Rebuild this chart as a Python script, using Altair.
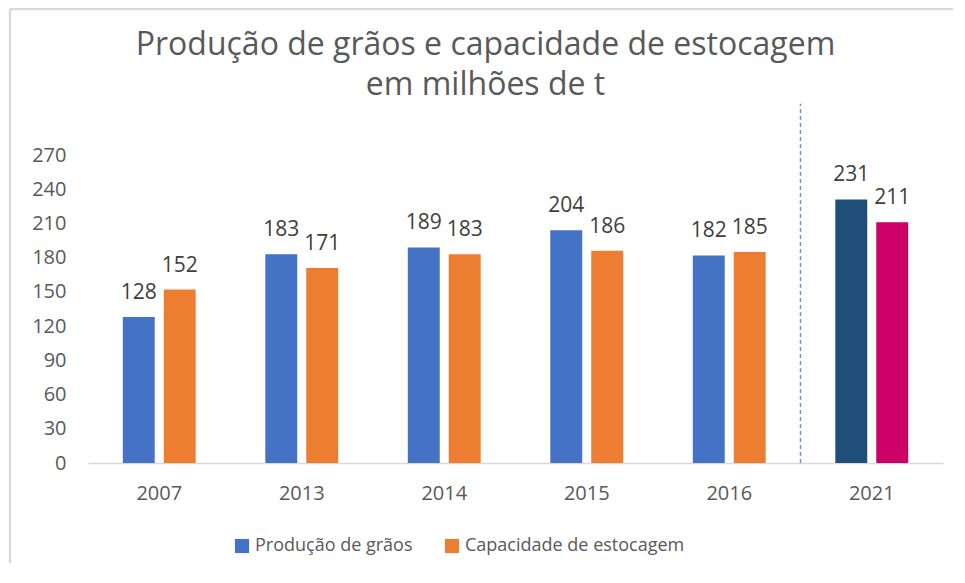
import altair as alt
import pandas as pd

anos = ["2007", "2013", "2014", "2015", "2016", "2021"]
producao = [128, 183, 189, 204, 182, 231]
capacidade = [152, 171, 183, 186, 185, 211]
series = ["Produção de grãos", "Capacidade de estocagem"]
grupos = ["Produção de grãos", "Capacidade de estocagem",
          "Produção de grãos 2021", "Capacidade de estocagem 2021"]
cores = ["#4472C4", "#ED7D31", "#1F4E79", "#CC0066"]
y_ticks = [0, 30, 60, 90, 120, 150, 180, 210, 240, 270]
titulo = ["Produção de grãos e capacidade de estocagem", "em milhões de t"]
ano_separador = "2021"
rule_top = 315

rows = []
for i, a in enumerate(anos):
    for s, vals in zip(series, [producao, capacidade]):
        g = s + " 2021" if a == "2021" else s
        rows.append({"Ano": a, "Serie": s, "Grupo": g, "Valor": vals[i]})
df = pd.DataFrame(rows)

FONT = "Open Sans"

x_axis = alt.Axis(labelAngle=0, ticks=False, domainColor="#D9D9D9",
                  domainWidth=1.5, labelColor="#595959", labelFontSize=20,
                  labelFont=FONT, labelPadding=20)
x_scale = alt.Scale(paddingInner=0, paddingOuter=0)
y_axis = alt.Axis(values=y_ticks, grid=False, domain=False, ticks=False,
                  labelColor="#595959", labelFontSize=20, labelFont=FONT,
                  labelPadding=22, labelOverlap=False)
y_scale = alt.Scale(domain=[0, 270], nice=False)

x_enc = alt.X("Ano:N", sort=anos, title=None, scale=x_scale, axis=x_axis)
xoff = alt.XOffset("Serie:N", sort=series,
                   scale=alt.Scale(paddingInner=0.22, paddingOuter=0.85))
y_enc = alt.Y("Valor:Q", title=None, scale=y_scale, axis=y_axis)

bars = alt.Chart(df).mark_bar().encode(
    x=x_enc,
    xOffset=xoff,
    y=y_enc,
    color=alt.Color("Grupo:N", scale=alt.Scale(domain=grupos, range=cores),
                    legend=alt.Legend(values=series, title=None, orient="none",
                                      direction="horizontal", legendX=145, legendY=382,
                                      symbolType="square", symbolSize=200,
                                      symbolStrokeWidth=0, labelFontSize=18,
                                      labelFont=FONT, labelColor="#595959",
                                      labelOffset=4, columnPadding=30,
                                      labelLimit=400)),
)

labels = alt.Chart(df).mark_text(baseline="bottom", dy=-14, fontSize=21,
                                 font=FONT, color="#404040").encode(
    x=x_enc,
    xOffset=xoff,
    y=y_enc,
    text="Valor:Q",
)

sep_df = pd.DataFrame({"Ano": [ano_separador], "y0": [0], "y1": [rule_top]})
sep = alt.Chart(sep_df).mark_rule(color="#6F93D8", strokeDash=[4, 3],
                                  strokeWidth=1.5, clip=False).encode(
    x=alt.X("Ano:N", sort=anos, bandPosition=0, title=None, scale=x_scale, axis=x_axis),
    y=alt.Y("y0:Q", title=None, scale=y_scale, axis=y_axis),
    y2="y1:Q",
)

border_top = alt.Chart(sep_df).mark_rule(color="#D9D9D9", strokeWidth=2.5).encode(
    x=alt.value(-78), x2=alt.value(880), y=alt.value(-146))
border_left = alt.Chart(sep_df).mark_rule(color="#D9D9D9", strokeWidth=2.5).encode(
    x=alt.value(-78), y=alt.value(-146), y2=alt.value(430))

chart = alt.layer(border_top, border_left, bars, labels, sep).properties(
    width=855,
    height=308,
    autosize=alt.AutoSizeParams(type="none"),
    padding={"left": 80, "top": 147, "right": 10, "bottom": 100},
    title=alt.TitleParams(text=titulo, fontSize=32, font=FONT, color="#595959",
                          fontWeight="normal", anchor="middle", dx=-30,
                          lineHeight=40, offset=-94),
).configure_view(stroke=None)

chart.save("out.html", embed_options={"renderer": "svg", "actions": False})
